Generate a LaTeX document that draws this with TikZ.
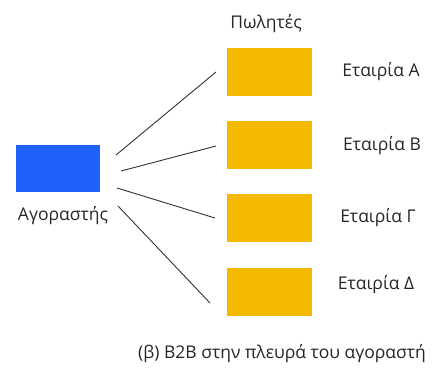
\documentclass[tikz,border=0pt]{standalone}
\usepackage{fontspec}
\setmainfont{Open Sans}
\definecolor{buyerblue}{RGB}{31,98,250}
\definecolor{selleryellow}{RGB}{245,185,0}
\definecolor{linkgray}{RGB}{50,50,50}
\begin{document}
\begin{tikzpicture}[x=1pt,y=-1pt,
  buyerbox/.style={fill=buyerblue,draw=none,minimum width=84pt,minimum height=47pt,inner sep=0pt},
  sellerbox/.style={fill=selleryellow,draw=none,minimum width=85pt,minimum height=48pt,inner sep=0pt},
  lbl/.style={font=\fontsize{17.5}{20}\selectfont,inner sep=0pt,text=black!85},
  link/.style={draw=linkgray,line width=0.9pt}]
\useasboundingbox (0,0) rectangle (437,370);
% buyer
\node[buyerbox] (buyer) at (58,168) {};
\node[lbl] (buyerlbl) at (63,216) {Αγοραστής};
% sellers
\node[lbl] (sellers) at (266,24) {Πωλητές};
\node[sellerbox] (sa) at (269.5,72) {};
\node[sellerbox] (sb) at (269.5,145) {};
\node[sellerbox] (sg) at (269.5,218) {};
\node[sellerbox] (sd) at (269.5,291.5) {};
\node[lbl] (la) at (381,72) {Εταιρία Α};
\node[lbl] (lb) at (382,146) {Εταιρία Β};
\node[lbl] (lg) at (378,218) {Εταιρία Γ};
\node[lbl] (ld) at (376,285) {Εταιρία Δ};
% connectors, ending short of the boxes
\coordinate (a0) at (116,155); \coordinate (a1) at (216,72);
\coordinate (b0) at (121,171); \coordinate (b1) at (216,146);
\coordinate (g0) at (117,188); \coordinate (g1) at (215,218);
\coordinate (d0) at (118,206); \coordinate (d1) at (210,303);
\draw[link] (a0) -- (a1);
\draw[link] (b0) -- (b1);
\draw[link] (g0) -- (g1);
\draw[link] (d0) -- (d1);
% caption
\node[lbl] (caption) at (282,354) {(β) Β2Β στην πλευρά του αγοραστή};
\end{tikzpicture}
\end{document}
